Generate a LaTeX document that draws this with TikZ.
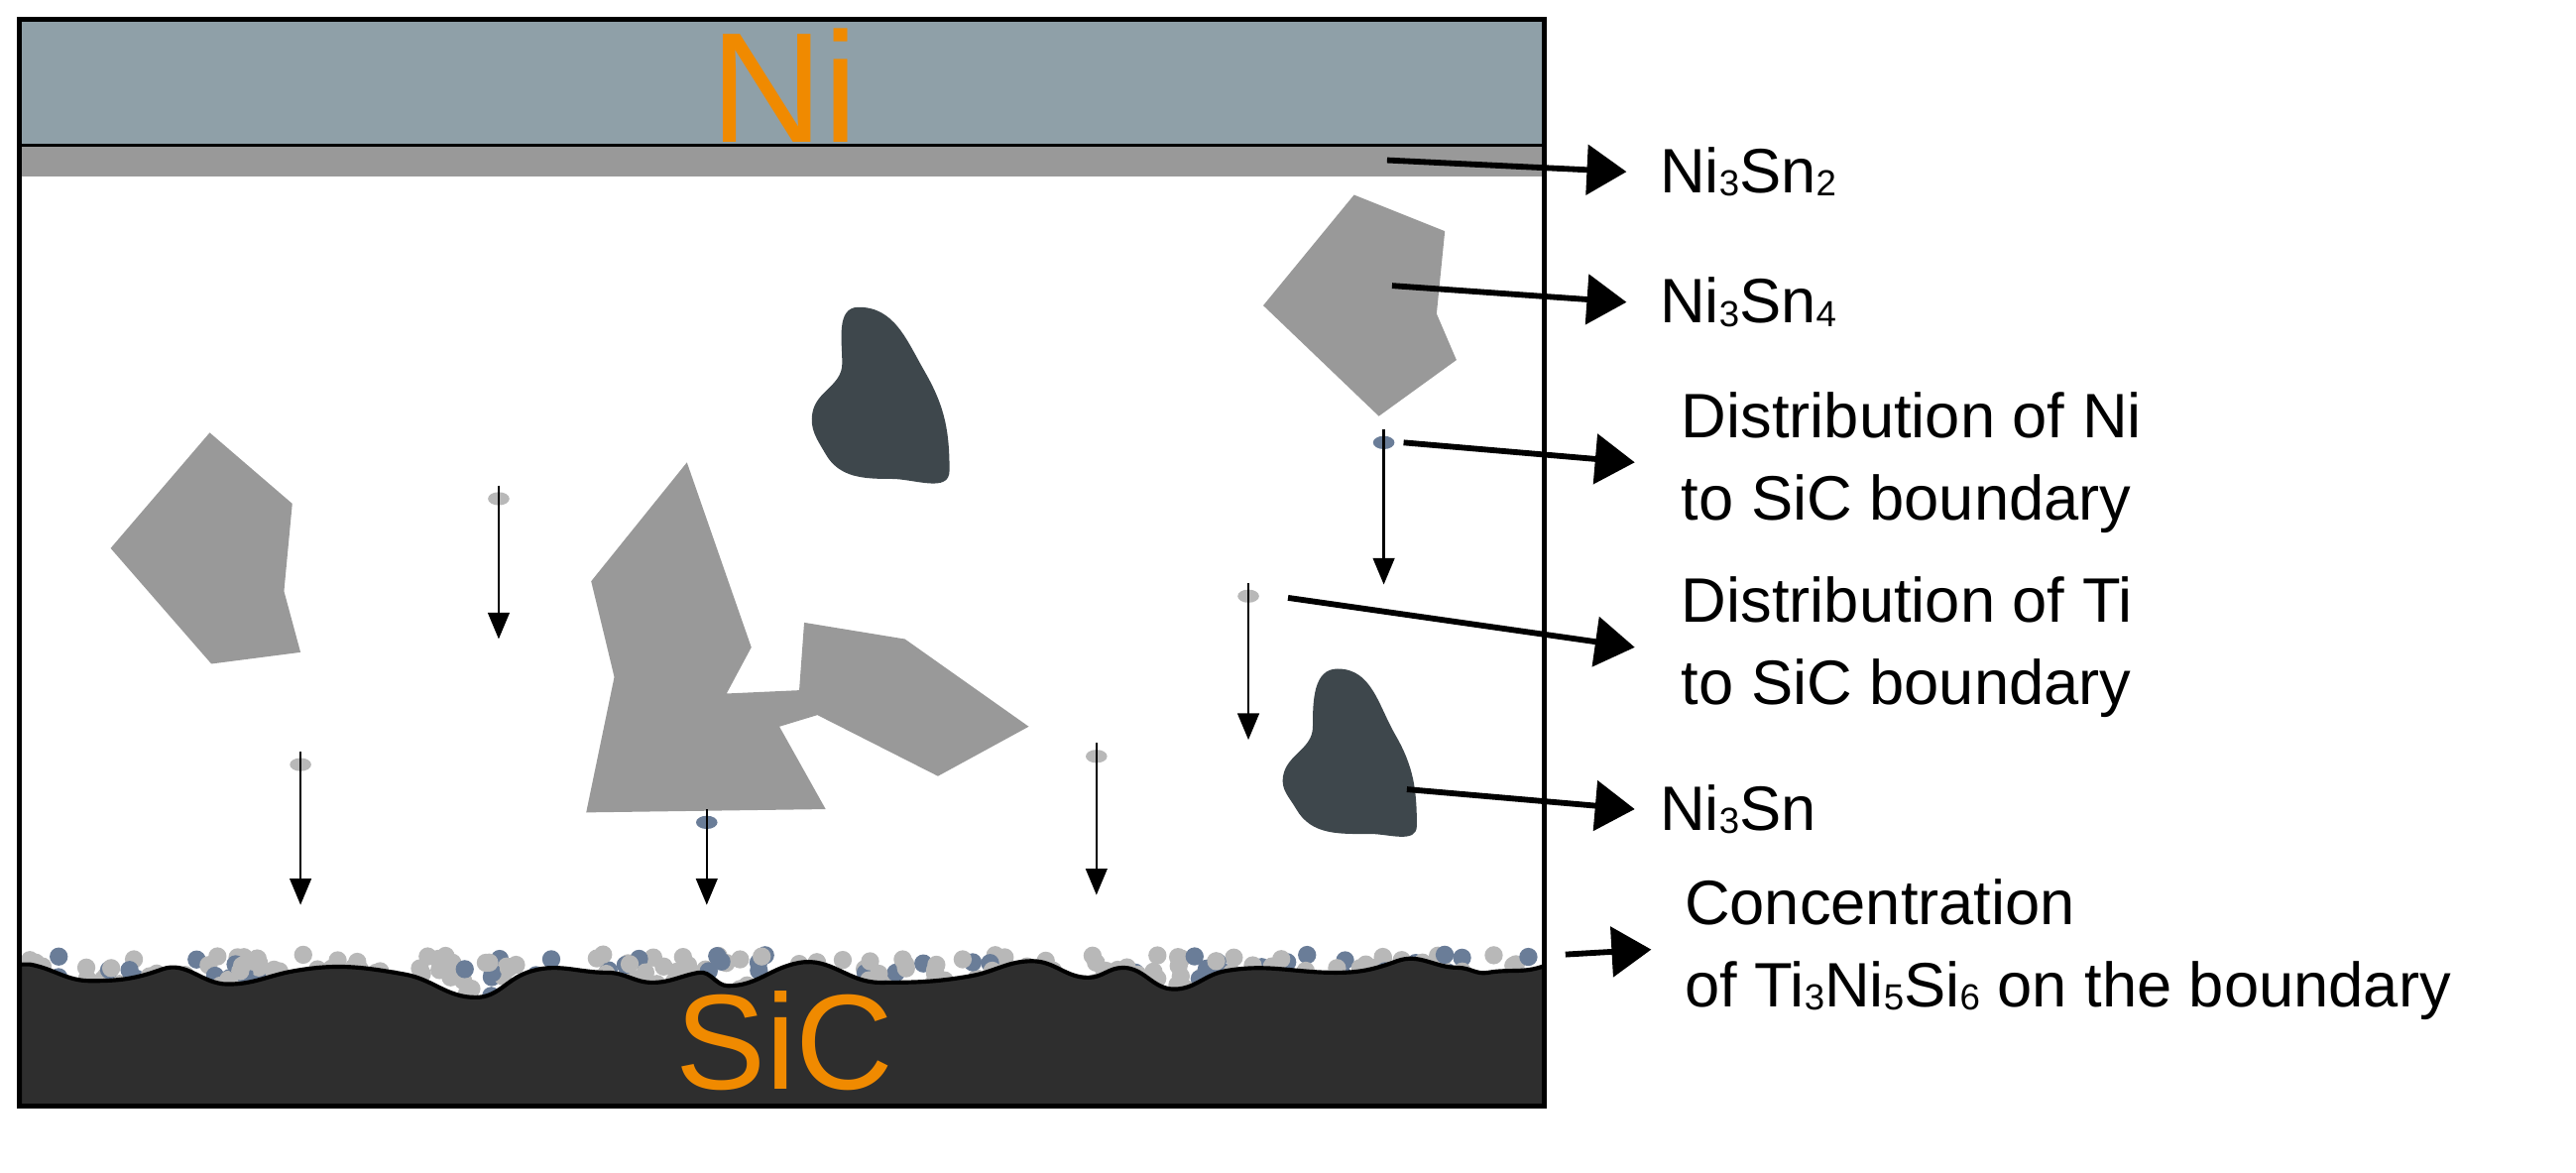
\documentclass[tikz,border=0pt]{standalone}
\usepackage{fontspec}
\setmainfont{Liberation Sans}
\usetikzlibrary{arrows.meta}
\definecolor{nicol}{HTML}{8FA0A8}
\definecolor{blobc}{HTML}{3E474C}
\definecolor{bluedot}{HTML}{6A7D98}
\definecolor{orng}{HTML}{F08A00}
\newcommand{\sbs}[1]{\raisebox{-0.05em}{\fontsize{22}{22}\selectfont #1}}
\begin{document}
\begin{tikzpicture}[x=1pt,y=-1pt,
  lab/.style={anchor=west,inner sep=0pt,align=left,font=\fontsize{38}{50}\selectfont},
  ptr/.style={line width=3.5pt,-{Triangle[length=24pt,width=30pt]}},
  drop/.style={line width=1.4pt,-{Triangle[length=16pt,width=13pt]}},
  xtal/.style={fill=black!40,draw=none},
  blob/.style={fill=blobc,draw=none},
  dotg/.style={fill=black!28},
  dotb/.style={fill=bluedot}]
\useasboundingbox (0,0) rectangle (1560,710);
% layers
\fill[nicol] (12,12) rectangle (935,88);
\fill[black!40] (12,88) rectangle (935,107);
\draw[line width=2pt] (12,88) -- (935,88);
\node[text=orng,font=\fontsize{95}{100}\selectfont,inner sep=0pt] (ni) at (475,52) {Ni};
% boundary dots
\pgfmathsetseed{7}
\foreach \i in {0,...,320}{
  \pgfmathsetmacro{\xx}{18+rnd*912}
  \pgfmathsetmacro{\yy}{578+rnd*26}
  \pgfmathsetmacro{\cc}{rnd}
  \ifdim\cc pt<0.3pt
    \fill[dotb] (\xx,\yy) circle (5.5);
  \else
    \fill[dotg] (\xx,\yy) circle (5.5);
  \fi
}
\fill[black!82,draw=black,line width=2.5pt] (12,584) -- (18,584) to[out=-10,in=180] (55,594) to[out=0,in=200] (98,587)
  to[out=20,in=180] (138,596) to[out=0,in=190] (178,588) to[out=10,in=170] (245,590) to[out=-10,in=180] (288,604)
  to[out=0,in=200] (319,589) to[out=20,in=180] (368,589) to[out=0,in=180] (395,595) to[out=0,in=190] (423,589)
  to[out=10,in=180] (441,597) to[out=0,in=190] (484,583) to[out=10,in=180] (533,595) to[out=0,in=190] (588,591)
  to[out=10,in=180] (625,582) to[out=0,in=180] (659,592) to[out=0,in=180] (680,586) to[out=0,in=180] (711,599)
  to[out=0,in=190] (742,588) to[out=10,in=180] (809,589) to[out=0,in=200] (846,582) to[out=20,in=180] (883,586)
  to[out=0,in=190] (901,589) to[out=10,in=200] (935,585) -- (935,670) -- (12,670) -- cycle;
\node[text=orng,font=\fontsize{82}{90}\selectfont,inner sep=0pt] (sic) at (475,630) {SiC};
\draw[line width=3pt] (12,12) rectangle (935,670);
% crystals
\fill[xtal] (820,118) -- (875,140) -- (870,190) -- (882,218) -- (835,252) -- (765,185) -- cycle;
\fill[xtal] (127,262) -- (177,305) -- (172,358) -- (182,395) -- (128,402) -- (67,332) -- cycle;
\fill[xtal] (416,280) -- (455,392) -- (440,420) -- (484,418) -- (487,377) -- (548,387) -- (623,440) -- (568,470)
  -- (495,433) -- (472,440) -- (500,490) -- (355,492) -- (372,410) -- (366,385) -- (358,352) -- cycle;
\fill[blob] (520,186) to[out=0,in=120] (560,225) to[out=-60,in=90] (575,285) to[out=-90,in=0] (540,290)
  to[out=180,in=-60] (500,275) to[out=120,in=-100] (492,250) to[out=80,in=-90] (510,220) to[out=90,in=180] cycle;
\fill[blob] (810,405) to[out=0,in=120] (845,445) to[out=-60,in=90] (858,500) to[out=-90,in=0] (830,505)
  to[out=180,in=-60] (785,490) to[out=120,in=-100] (777,470) to[out=80,in=-90] (795,440) to[out=90,in=180] cycle;
% small particles with drops
\fill[dotb] (838,268) ellipse (6.5 and 4) coordinate (pni);
\fill[dotg] (756,361) ellipse (6.5 and 4) coordinate (pti);
\fill[dotg] (302,302) ellipse (6.5 and 4) coordinate (p1);
\fill[dotg] (182,463) ellipse (6.5 and 4) coordinate (p2);
\fill[dotb] (428,498) ellipse (6.5 and 4) coordinate (p3);
\fill[dotg] (664,458) ellipse (6.5 and 4) coordinate (p4);
\coordinate (dni) at (838,354); \coordinate (dti) at (756,448);
\coordinate (d1) at (302,387); \coordinate (d2) at (182,548);
\coordinate (d3) at (428,548); \coordinate (d4) at (664,542);
\draw[drop] ([yshift=8]pni) -- (dni);
\draw[drop] ([yshift=8]pti) -- (dti);
\draw[drop] ([yshift=8]p1) -- (d1);
\draw[drop] ([yshift=8]p2) -- (d2);
\draw[drop] ([yshift=8]p3) -- (d3);
\draw[drop] ([yshift=8]p4) -- (d4);
% labels
\node[lab] (l1) at (1005,104) {Ni\sbs{3}Sn\sbs{2}};
\node[lab] (l2) at (1005,183) {Ni\sbs{3}Sn\sbs{4}};
\node[lab] (l3) at (1018,280) {Distribution of Ni\\to SiC boundary};
\node[lab] (l4) at (1018,392) {Distribution of Ti\\to SiC boundary};
\node[lab] (l5) at (1005,490) {Ni\sbs{3}Sn};
\node[lab] (l6) at (1020,575) {Concentration\\of Ti\sbs{3}Ni\sbs{5}Si\sbs{6} on the boundary};
\coordinate (s1) at (840,97); \coordinate (s2) at (843,173);
\coordinate (s3) at (850,268); \coordinate (s4) at (780,362);
\coordinate (s5) at (852,478); \coordinate (s6) at (948,578);
\draw[ptr] (s1) -- ([xshift=-20]l1.west);
\draw[ptr] (s2) -- ([xshift=-20]l2.west);
\draw[ptr] (s3) -- ([xshift=-28]l3.west);
\draw[ptr] (s4) -- ([xshift=-28]l4.west);
\draw[ptr] (s5) -- ([xshift=-15]l5.west);
\draw[ptr] (s6) -- ([xshift=-20]l6.west);
\end{tikzpicture}
\end{document}
